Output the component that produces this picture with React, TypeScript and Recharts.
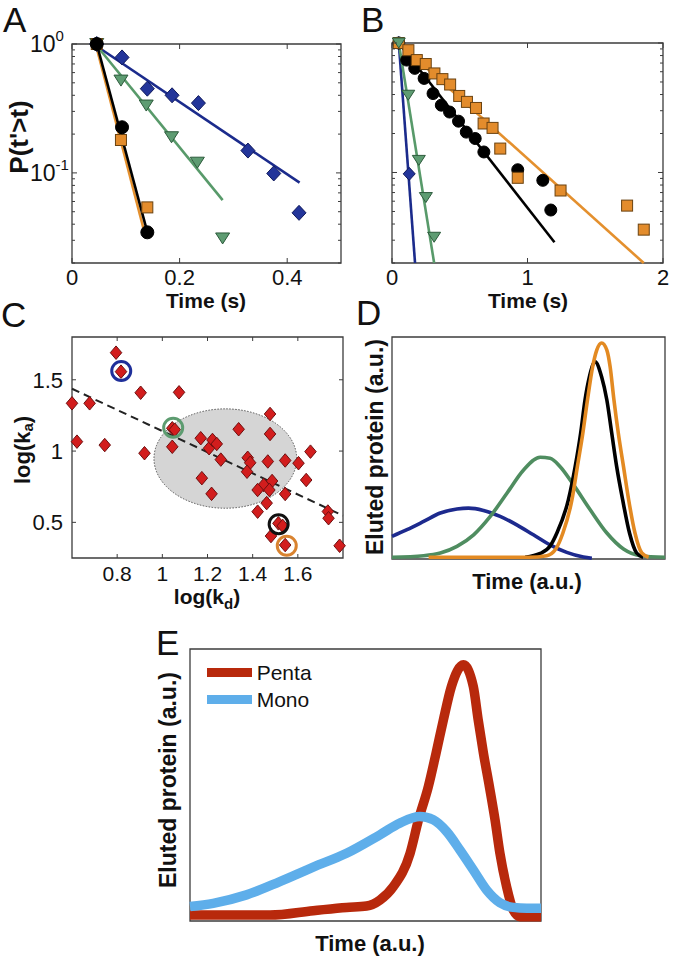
import React from 'react';
import { ComposedChart, LineChart, Line, Scatter, XAxis, YAxis, ReferenceArea, ReferenceDot, Legend } from 'recharts';

const FONT = '"Liberation Sans", Arial, Helvetica, sans-serif';
const FRAME = '#3c3c3c';

// ---------- Panel A (survival, short times) ----------
const aCircleT = [0.046, 0.093, 0.14];
const aCircleP = [1, 0.226, 0.0346];
const aSquareT = [0.046, 0.091, 0.14];
const aSquareP = [1, 0.18, 0.054];
const aTriT = [0.046, 0.091, 0.138, 0.185, 0.233, 0.28];
const aTriP = [1, 0.52, 0.333, 0.189, 0.12, 0.031];
const aDiaT = [0.046, 0.093, 0.14, 0.186, 0.235, 0.327, 0.375, 0.422];
const aDiaP = [1, 0.787, 0.45, 0.4, 0.348, 0.149, 0.099, 0.049];
const aFitBlueT = [0.046, 0.423];
const aFitBlueP = [0.96, 0.084];
const aFitGreenT = [0.046, 0.28];
const aFitGreenP = [0.97, 0.0615];
const aFitBlackT = [0.046, 0.139];
const aFitBlackP = [1, 0.036];
const aFitOrangeT = [0.044, 0.136];
const aFitOrangeP = [1, 0.033];
const aXTicks = [0, 0.2, 0.4];
const aXDomain = [0, 0.5];

// ---------- Panel B (survival, long times) ----------
const bCircleT = [0.05, 0.108, 0.168, 0.237, 0.303, 0.364, 0.425, 0.491, 0.548, 0.614, 0.678, 0.928, 1.113, 1.172];
const bCircleP = [1, 0.738, 0.637, 0.533, 0.407, 0.331, 0.293, 0.249, 0.205, 0.183, 0.144, 0.105, 0.087, 0.0513];
const bSquareT = [0.05, 0.121, 0.183, 0.249, 0.313, 0.372, 0.429, 0.496, 0.553, 0.62, 0.676, 0.742, 0.799, 0.928, 1.244, 1.735, 1.858];
const bSquareP = [1, 0.88, 0.738, 0.688, 0.582, 0.526, 0.478, 0.39, 0.351, 0.315, 0.239, 0.221, 0.153, 0.091, 0.0726, 0.0555, 0.0362];
const bTriT = [0.05, 0.12, 0.198, 0.25, 0.311];
const bTriP = [1, 0.395, 0.124, 0.064, 0.0316];
const bDiaT = [0.05, 0.127];
const bDiaP = [1, 0.0976];
const bFitBlueT = [0.05, 0.17];
const bFitBlueP = [1, 0.02];
const bFitGreenT = [0.05, 0.311];
const bFitGreenP = [1, 0.02];
const bFitBlackT = [0.05, 1.199];
const bFitBlackP = [1, 0.0289];
const bFitOrangeT = [0.05, 1.858];
const bFitOrangeP = [1, 0.02];
const bXTicks = [0, 1, 2];
const bXDomain = [0, 2];

const logDomain = [0.02, 1];
const logTicks = [0.02, 0.03, 0.04, 0.05, 0.06, 0.07, 0.08, 0.09, 0.1, 0.2, 0.3, 0.4, 0.5, 0.6, 0.7, 0.8, 0.9, 1];
const logMajors = [0.1, 1];

// ---------- Panel C (log kd vs log ka) ----------
const cLogKd = [0.795, 0.817, 0.904, 1.074, 0.6, 0.678, 1.044, 1.055, 0.622, 0.745, 1.044, 0.921, 1.17, 1.207, 1.222, 1.241, 1.259, 1.175, 1.218, 1.338, 1.378, 1.389, 1.375, 1.477, 1.477, 1.467, 1.544, 1.603, 1.656, 1.637, 1.449, 1.422, 1.486, 1.474, 1.544, 1.422, 1.462, 1.514, 1.533, 1.481, 1.544, 1.733, 1.736, 1.785];
const cLogKa = [1.69, 1.557, 1.409, 1.412, 1.335, 1.335, 1.16, 1.15, 1.066, 1.042, 1.03, 0.985, 1.09, 1.02, 1.078, 1.05, 0.94, 0.81, 0.7, 1.153, 0.953, 0.918, 0.855, 1.26, 1.12, 0.927, 0.934, 0.915, 0.996, 0.797, 0.762, 0.727, 0.79, 0.727, 0.699, 0.575, 0.635, 0.493, 0.475, 0.404, 0.341, 0.576, 0.529, 0.336];
const cTrendKd = [0.6, 1.8];
const cTrendKa = [1.437, 0.547];
const cEllipseKd = [0.963, 1.595];
const cEllipseKa = [0.599, 1.296];
const cHighlightKd = [0.818, 1.048, 1.515, 1.551];
const cHighlightKa = [1.562, 1.164, 0.487, 0.336];
const cHighlightColor = ['#1f2f9a', '#5d9c70', '#111111', '#d98330'];
const cXTicks = [0.8, 1, 1.2, 1.4, 1.6];
const cYTicks = [0.5, 1, 1.5];
const cXDomain = [0.6, 1.8];
const cYDomain = [0.25, 1.8];

// ---------- Panel D (simulated elution) ----------
const dBlueT = [0, 5.5, 11.6, 17.7, 23.8, 28, 33.5, 39.6, 45.7, 51.8, 57.9, 64, 70.1, 73.2];
const dBlueV = [10.2, 13.2, 16.9, 20.7, 22.5, 22.9, 21.9, 19.2, 15.4, 10.9, 6.4, 3.0, 0.9, 0.3];
const dGreenT = [0, 11.6, 17.7, 23.8, 29.9, 36, 42.1, 48.2, 54.3, 57.9, 61.6, 66.5, 72.6, 78.7, 84.8, 90.9, 100];
const dGreenV = [0.8, 1.5, 2.7, 5.7, 10.9, 19.2, 29.6, 40.1, 45.8, 45.4, 41.6, 33.4, 22.2, 11.7, 4.5, 1.5, 0.8];
const dBlackT = [48.8, 54.3, 58, 60.4, 64.6, 67.1, 69.1, 70.7, 72.3, 74.4, 76.8, 78.7, 80.5, 82.3, 84.5, 87, 89.6, 92];
const dBlackV = [0.8, 2.5, 6, 11.7, 26.6, 41.6, 56.6, 71.6, 82, 88.8, 82, 71.6, 56.6, 41.6, 26.6, 11.7, 2.7, 0.8];
const dOrangeT = [13.4, 50, 56.7, 60, 62.6, 65.9, 67.9, 69.9, 71.6, 73.5, 75, 76.8, 78.7, 79.9, 81.3, 82.9, 84.8, 86.7, 89, 91.5, 94];
const dOrangeV = [0.8, 0.8, 1.5, 4.5, 11.7, 26.6, 41.6, 56.6, 71.6, 86.6, 94.1, 97.3, 94.1, 86.6, 71.6, 56.6, 41.6, 26.6, 11.7, 2.7, 0.8];
const unitDomain = [0, 100];

// ---------- Panel E (measured elution) ----------
const ePentaT = [0, 22.8, 35.1, 44.6, 50.3, 54.1, 57.9, 62.7, 65.1, 67.9, 70.1, 72.2, 74.5, 77.9, 80.7, 82.1, 83.6, 85.3, 86.9, 88.3, 90.2, 92.1, 94, 100];
const ePentaV = [2.2, 2.2, 3.8, 5.0, 5.5, 7.7, 12.6, 24.9, 37.2, 49.4, 61.7, 74, 86.3, 94.2, 86.3, 74, 61.7, 49.4, 37.2, 24.9, 12.6, 4, 1.6, 1.6];
const eMonoT = [0, 6.6, 16.1, 25.6, 35.1, 44.6, 54.1, 59.8, 65.5, 69.3, 73.1, 76.9, 80.7, 84.5, 88.3, 92.1, 95.9, 100];
const eMonoV = [5.3, 6.5, 9.6, 14.5, 19.8, 24.9, 31.7, 36, 38.4, 37.2, 32.9, 26.1, 18.8, 11.4, 6.7, 5, 4.7, 4.7];
const eSeriesOrder = ['Penta', 'Mono'];

const pts = (xs: number[], ys: number[]) => xs.map((x, i) => ({ x, y: ys[i] }));

// ---------- layout helpers ----------
type Box = { x0: number; y0: number; x1: number; y1: number };
const PL = 80, PT = 30, PR = 12, PB = 50;
const dims = (b: Box) => ({
  style: { position: 'absolute' as const, left: b.x0 - PL, top: b.y0 - PT },
  width: b.x1 - b.x0 + PL + PR,
  height: b.y1 - b.y0 + PT + PB,
  margin: { top: PT, right: PR, bottom: 0, left: 0 },
});

const boxA: Box = { x0: 72, y0: 44, x1: 341, y1: 263 };
const boxB: Box = { x0: 392, y0: 43, x1: 663, y1: 263 };
const boxC: Box = { x0: 72, y0: 337, x1: 343, y1: 558 };
const boxD: Box = { x0: 392, y0: 337, x1: 665, y1: 559 };
const boxE: Box = { x0: 190, y0: 649, x1: 541, y1: 921 };

const isIn = (arr: number[] | undefined, v: number) => !arr || arr.some((m) => Math.abs(m - v) < 1e-9);

type TickOpts = { span: number; len?: number; minor?: number; majors?: number[]; label?: (v: number) => any; fs?: number; off?: number; anchor?: 'start' | 'end' };

const bottomTick = (o: TickOpts) => (p: any) => {
  const { x, y, payload } = p;
  const v = payload.value;
  const major = isIn(o.majors, v);
  const L = major ? (o.len ?? 5) : (o.minor ?? 3);
  const lab = major && o.label ? o.label(v) : null;
  return (
    <g>
      <line x1={x} x2={x} y1={y} y2={y - L} stroke={FRAME} strokeWidth={1} />
      <line x1={x} x2={x} y1={y - o.span} y2={y - o.span + L} stroke={FRAME} strokeWidth={1} />
      {lab != null && (
        <text x={x} y={y + (o.off ?? 23)} textAnchor="middle" fontSize={o.fs ?? 21} fontFamily={FONT} fill="#111">
          {lab}
        </text>
      )}
    </g>
  );
};

const leftTick = (o: TickOpts) => (p: any) => {
  const { x, y, payload } = p;
  const v = payload.value;
  const major = isIn(o.majors, v);
  const L = major ? (o.len ?? 5) : (o.minor ?? 3);
  const lab = major && o.label ? o.label(v) : null;
  return (
    <g>
      <line x1={x} x2={x + L} y1={y} y2={y} stroke={FRAME} strokeWidth={1} />
      <line x1={x + o.span} x2={x + o.span - L} y1={y} y2={y} stroke={FRAME} strokeWidth={1} />
      {lab != null && (
        <text x={x - (o.off ?? 10)} y={y + 8} textAnchor={o.anchor ?? 'end'} fontSize={o.fs ?? 21} fontFamily={FONT} fill="#111">
          {lab}
        </text>
      )}
    </g>
  );
};

const plainNum = (v: number) => String(v);
const powLabel = (v: number) => (
  <>
    <tspan>10</tspan>
    <tspan dy={-11} fontSize={15}>{v === 1 ? '0' : '-1'}</tspan>
  </>
);

// ---------- marker shapes ----------
const circleShape = (fill: string, stroke: string, r: number) => (p: any) => (
  <circle cx={p.cx} cy={p.cy} r={r} fill={fill} stroke={stroke} strokeWidth={1} />
);
const squareShape = (fill: string, stroke: string, s: number) => (p: any) => (
  <rect x={p.cx - s / 2} y={p.cy - s / 2} width={s} height={s} fill={fill} stroke={stroke} strokeWidth={1} />
);
const diamondShape = (fill: string, stroke: string, w: number, h: number) => (p: any) => (
  <polygon
    points={`${p.cx},${p.cy - h / 2} ${p.cx + w / 2},${p.cy} ${p.cx},${p.cy + h / 2} ${p.cx - w / 2},${p.cy}`}
    fill={fill}
    stroke={stroke}
    strokeWidth={1}
  />
);
const triDownShape = (fill: string, stroke: string, w: number, h: number) => (p: any) => (
  <polygon
    points={`${p.cx - w / 2},${p.cy - h / 2} ${p.cx + w / 2},${p.cy - h / 2} ${p.cx},${p.cy + h / 2}`}
    fill={fill}
    stroke={stroke}
    strokeWidth={1}
  />
);
const ellipseShape = (p: any) => (
  <ellipse
    cx={p.x + p.width / 2}
    cy={p.y + p.height / 2}
    rx={Math.abs(p.width) / 2}
    ry={Math.abs(p.height) / 2}
    fill="#d5d5d5"
    stroke="#555"
    strokeWidth={1}
    strokeDasharray="1.5 1.5"
  />
);

const frameArea = (xd: number[], yd: number[]) => (
  <ReferenceArea x1={xd[0]} x2={xd[1]} y1={yd[0]} y2={yd[1]} fill="none" fillOpacity={0} stroke={FRAME} strokeWidth={1.3} ifOverflow="visible" />
);

const BLUE = '#23359a';
const BLUE_EDGE = '#101a5c';
const GREEN = '#5e9c72';
const GREEN_EDGE = '#2c5a3b';
const ORANGE = '#e38c2c';
const ORANGE_EDGE = '#6a4210';
const LBLUE = '#1b2b8c';
const LGREEN = '#589a6a';
const LORANGE = '#e4902e';

const fitLine = (key: string, data: any[], color: string, w = 2.6) => (
  <Line key={key} data={data} dataKey="y" type="linear" stroke={color} strokeWidth={w} dot={false} activeDot={false} isAnimationActive={false} legendType="none" />
);

function PanelA() {
  const d = dims(boxA);
  const ph = boxA.y1 - boxA.y0;
  const pw = boxA.x1 - boxA.x0;
  return (
    <div style={d.style}>
      <ComposedChart width={d.width} height={d.height} margin={d.margin}>
        <XAxis dataKey="x" type="number" domain={aXDomain} ticks={aXTicks} interval={0} height={PB} axisLine={false} tickLine={false} tickSize={0} tickMargin={0}
          tick={bottomTick({ span: ph, label: plainNum, fs: 22, off: 22 })} />
        <YAxis dataKey="y" type="number" scale="log" domain={logDomain} ticks={logTicks} interval={0} width={PL} axisLine={false} tickLine={false} tickSize={0} tickMargin={0}
          tick={leftTick({ span: pw, majors: logMajors, label: powLabel, fs: 23, off: 42, anchor: 'start' })} />
        {fitLine('ab', pts(aFitBlueT, aFitBlueP), LBLUE)}
        {fitLine('ag', pts(aFitGreenT, aFitGreenP), LGREEN)}
        {fitLine('ao', pts(aFitOrangeT, aFitOrangeP), LORANGE)}
        {fitLine('ak', pts(aFitBlackT, aFitBlackP), '#000')}
        <Scatter data={pts(aDiaT, aDiaP)} shape={diamondShape(BLUE, BLUE_EDGE, 14, 15)} isAnimationActive={false} />
        <Scatter data={pts(aTriT, aTriP)} shape={triDownShape(GREEN, GREEN_EDGE, 14, 11)} isAnimationActive={false} />
        <Scatter data={pts(aSquareT, aSquareP)} shape={squareShape(ORANGE, ORANGE_EDGE, 11)} isAnimationActive={false} />
        <Scatter data={pts(aCircleT, aCircleP)} shape={circleShape('#000', '#000', 6.5)} isAnimationActive={false} />
        {frameArea(aXDomain, logDomain)}
      </ComposedChart>
    </div>
  );
}

function PanelB() {
  const d = dims(boxB);
  const ph = boxB.y1 - boxB.y0;
  const pw = boxB.x1 - boxB.x0;
  return (
    <div style={d.style}>
      <ComposedChart width={d.width} height={d.height} margin={d.margin}>
        <XAxis dataKey="x" type="number" domain={bXDomain} ticks={bXTicks} interval={0} height={PB} axisLine={false} tickLine={false} tickSize={0} tickMargin={0}
          tick={bottomTick({ span: ph, label: plainNum, fs: 22, off: 22 })} />
        <YAxis dataKey="y" type="number" scale="log" domain={logDomain} ticks={logTicks} interval={0} width={PL} axisLine={false} tickLine={false} tickSize={0} tickMargin={0}
          tick={leftTick({ span: pw, majors: logMajors })} />
        {fitLine('bb', pts(bFitBlueT, bFitBlueP), LBLUE)}
        {fitLine('bg', pts(bFitGreenT, bFitGreenP), LGREEN)}
        {fitLine('bo', pts(bFitOrangeT, bFitOrangeP), LORANGE)}
        {fitLine('bk', pts(bFitBlackT, bFitBlackP), '#000')}
        <Scatter data={pts(bDiaT, bDiaP)} shape={diamondShape(BLUE, BLUE_EDGE, 12, 13)} isAnimationActive={false} />
        <Scatter data={pts(bCircleT, bCircleP)} shape={circleShape('#000', '#000', 6)} isAnimationActive={false} />
        <Scatter data={pts(bSquareT, bSquareP)} shape={squareShape(ORANGE, ORANGE_EDGE, 11)} isAnimationActive={false} />
        <Scatter data={pts(bTriT, bTriP)} shape={triDownShape(GREEN, GREEN_EDGE, 13, 10)} isAnimationActive={false} />
        {frameArea(bXDomain, logDomain)}
      </ComposedChart>
    </div>
  );
}

function PanelC() {
  const d = dims(boxC);
  const ph = boxC.y1 - boxC.y0;
  const pw = boxC.x1 - boxC.x0;
  return (
    <div style={d.style}>
      <ComposedChart width={d.width} height={d.height} margin={d.margin}>
        <XAxis dataKey="x" type="number" domain={cXDomain} ticks={cXTicks} interval={0} height={PB} axisLine={false} tickLine={false} tickSize={0} tickMargin={0}
          tick={bottomTick({ span: ph, label: plainNum, fs: 21, off: 23, len: 4 })} />
        <YAxis dataKey="y" type="number" domain={cYDomain} ticks={cYTicks} interval={0} width={PL} axisLine={false} tickLine={false} tickSize={0} tickMargin={0}
          tick={leftTick({ span: pw, label: plainNum, fs: 22, off: 9, len: 4 })} />
        <ReferenceArea x1={cEllipseKd[0]} x2={cEllipseKd[1]} y1={cEllipseKa[0]} y2={cEllipseKa[1]} shape={ellipseShape} />
        <Line data={pts(cTrendKd, cTrendKa)} dataKey="y" type="linear" stroke="#222" strokeWidth={2} strokeDasharray="8 5" dot={false} activeDot={false} isAnimationActive={false} />
        <Scatter data={pts(cLogKd, cLogKa)} shape={diamondShape('#d21d1d', '#6e1010', 11.5, 13.5)} isAnimationActive={false} />
        {cHighlightKd.map((kd, i) => (
          <ReferenceDot key={i} x={kd} y={cHighlightKa[i]} r={9.5} fill="none" stroke={cHighlightColor[i]} strokeWidth={3} />
        ))}
        {frameArea(cXDomain, cYDomain)}
      </ComposedChart>
    </div>
  );
}

const curve = (key: string, xs: number[], ys: number[], color: string, w: number, name?: string) => (
  <Line key={key} name={name} data={pts(xs, ys)} dataKey="y" type="monotone" stroke={color} strokeWidth={w} dot={false} activeDot={false} isAnimationActive={false} />
);

function PanelD() {
  const d = dims(boxD);
  return (
    <div style={d.style}>
      <LineChart width={d.width} height={d.height} margin={d.margin}>
        <XAxis dataKey="x" type="number" domain={unitDomain} height={PB} axisLine={false} tick={false} tickLine={false} />
        <YAxis dataKey="y" type="number" domain={unitDomain} width={PL} axisLine={false} tick={false} tickLine={false} />
        {curve('db', dBlueT, dBlueV, '#1d2a8e', 3.6)}
        {curve('dg', dGreenT, dGreenV, '#4f8d60', 3.6)}
        {curve('dk', dBlackT, dBlackV, '#000', 3.6)}
        {curve('do', dOrangeT, dOrangeV, '#e38a22', 3.6)}
        {frameArea(unitDomain, unitDomain)}
      </LineChart>
    </div>
  );
}

const eLegend = (props: any) => {
  const payload = (props.payload || [])
    .filter((p: any) => eSeriesOrder.includes(p.value))
    .sort((a: any, b: any) => eSeriesOrder.indexOf(a.value) - eSeriesOrder.indexOf(b.value));
  return (
    <div style={{ fontFamily: FONT, fontSize: 21, color: '#111', lineHeight: '27.5px' }}>
      {payload.map((p: any) => (
        <div key={p.value} style={{ display: 'flex', alignItems: 'center', height: 27.5 }}>
          <div style={{ width: 45, height: 9, background: p.color, marginRight: 5 }} />
          <span>{p.value}</span>
        </div>
      ))}
    </div>
  );
};

function PanelE() {
  const d = dims(boxE);
  return (
    <div style={d.style}>
      <LineChart width={d.width} height={d.height} margin={d.margin}>
        <XAxis dataKey="x" type="number" domain={unitDomain} height={PB} axisLine={false} tick={false} tickLine={false} />
        <YAxis dataKey="y" type="number" domain={unitDomain} width={PL} axisLine={false} tick={false} tickLine={false} />
        {curve('ep', ePentaT, ePentaV, '#b8290c', 9.5, 'Penta')}
        {curve('em', eMonoT, eMonoV, '#5eaeea', 9.5, 'Mono')}
        {frameArea(unitDomain, unitDomain)}
        <Legend layout="vertical" align="center" verticalAlign="middle" content={eLegend}
          wrapperStyle={{ left: 206.7 - (boxE.x0 - PL), top: 658.7 - (boxE.y0 - PT), width: 120 }} />
      </LineChart>
    </div>
  );
}

const T = { fontFamily: FONT, fill: '#111' };

export default function App() {
  return (
    <div style={{ position: 'absolute', left: 0, top: 0, width: 679, height: 958, background: '#fff', overflow: 'hidden' }}>
      <PanelA />
      <PanelB />
      <PanelC />
      <PanelD />
      <PanelE />
      <svg width={679} height={958} style={{ position: 'absolute', left: 0, top: 0, pointerEvents: 'none' }}>
        <g {...T} fontSize={35}>
          <text x={3} y={32}>A</text>
          <text x={361} y={32}>B</text>
          <text x={1} y={327}>C</text>
          <text x={356} y={325}>D</text>
          <text x={156} y={655}>E</text>
        </g>
        <g {...T} fontWeight="bold" fontSize={21} textAnchor="middle">
          <text x={206} y={308}>Time (s)</text>
          <text x={528} y={308}>Time (s)</text>
          <text x={207} y={604}>
            <tspan>log(k</tspan>
            <tspan fontSize={15} dy={5}>d</tspan>
            <tspan dy={-5}>)</tspan>
          </text>
          <text x={527} y={589} fontSize={22}>Time (a.u.)</text>
          <text x={370} y={951} fontSize={22}>Time (a.u.)</text>
          <text transform="translate(19,137) rotate(-90)" dominantBaseline="central" fontSize={26}>P(t'&gt;t)</text>
          <text transform="translate(22,450) rotate(-90)" dominantBaseline="central" fontSize={22}>
            <tspan>log(k</tspan>
            <tspan fontSize={15} dy={5}>a</tspan>
            <tspan dy={-5}>)</tspan>
          </text>
          <text transform="translate(375,447) rotate(-90)" dominantBaseline="central" fontSize={23}>Eluted protein (a.u.)</text>
          <text transform="translate(168,780) rotate(-90)" dominantBaseline="central" fontSize={23}>Eluted protein (a.u.)</text>
        </g>
      </svg>
    </div>
  );
}
